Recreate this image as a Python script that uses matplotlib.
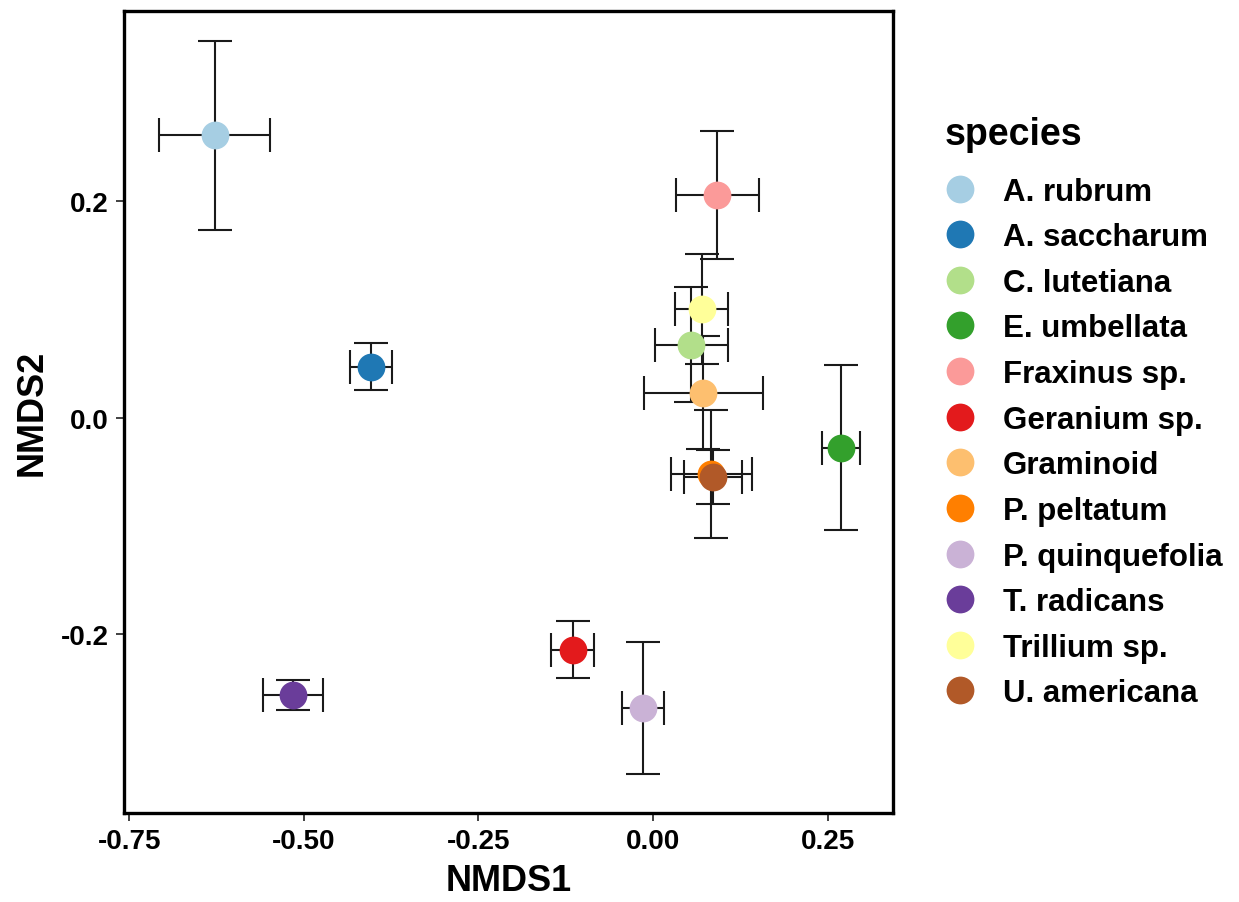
import matplotlib
matplotlib.use("Agg")
import matplotlib.pyplot as plt
from matplotlib.lines import Line2D

plt.rcParams['font.family'] = ['Liberation Sans', 'DejaVu Sans']
plt.rcParams['font.weight'] = 'bold'

species = ['A. rubrum', 'A. saccharum', 'C. lutetiana', 'E. umbellata',
           'Fraxinus sp.', 'Geranium sp.', 'Graminoid', 'P. peltatum',
           'P. quinquefolia', 'T. radicans', 'Trillium sp.', 'U. americana']
nmds1 = [-0.628, -0.404, 0.055, 0.269, 0.092, -0.115, 0.072, 0.083,
         -0.015, -0.515, 0.070, 0.086]
nmds2 = [0.260, 0.047, 0.067, -0.028, 0.205, -0.214, 0.023, -0.052,
         -0.268, -0.256, 0.100, -0.055]
err1 = [0.080, 0.030, 0.052, 0.027, 0.059, 0.031, 0.085, 0.058,
        0.030, 0.043, 0.038, 0.042]
err2 = [0.087, 0.022, 0.053, 0.076, 0.059, 0.026, 0.052, 0.059,
        0.061, 0.014, 0.051, 0.025]

# ColorBrewer "Paired"
colors = ['#A6CEE3', '#1F78B4', '#B2DF8A', '#33A02C', '#FB9A99', '#E31A1C',
          '#FDBF6F', '#FF7F00', '#CAB2D6', '#6A3D9A', '#FFFF99', '#B15928']

fig = plt.figure(figsize=(12.39, 9.03), dpi=100)
ax = fig.add_axes([0.1001, 0.0986, 0.6206, 0.8881])

for i in range(len(species)):
    ax.errorbar(nmds1[i], nmds2[i], xerr=err1[i], yerr=err2[i], fmt='none',
                ecolor='#1a1a1a', elinewidth=1.5, capsize=12.5, capthick=1.5,
                zorder=2)

for i in range(len(species)):
    ax.plot(nmds1[i], nmds2[i], 'o', ms=20, color=colors[i], mec='none',
            zorder=3)

ax.set_xlim(-0.7576, 0.3435)
ax.set_ylim(-0.3645, 0.3747)
ax.set_xticks([-0.75, -0.5, -0.25, 0.0, 0.25])
ax.set_xticklabels(['-0.75', '-0.50', '-0.25', '0.00', '0.25'])
ax.set_yticks([-0.2, 0.0, 0.2])
ax.set_yticklabels(['-0.2', '0.0', '0.2'])
ax.tick_params(labelsize=20, length=6, width=1.3, color='#333333',
               labelcolor='black', pad=5)
for lab in ax.get_xticklabels() + ax.get_yticklabels():
    lab.set_fontweight('bold')
for s in ax.spines.values():
    s.set_linewidth(2.4)
    s.set_color('black')

ax.set_xlabel('NMDS1', fontsize=26, fontweight='bold', labelpad=6)
ax.set_ylabel('NMDS2', fontsize=26, fontweight='bold', labelpad=8)

handles = [Line2D([], [], marker='o', ls='none', ms=20, color=c, mec='none')
           for c in colors]
leg = fig.legend(handles, species, title='species', loc='upper left',
                 bbox_to_anchor=(0.752, 0.884), frameon=False,
                 prop={'size': 22.5, 'weight': 'bold'},
                 title_fontproperties={'size': 27, 'weight': 'bold'},
                 labelspacing=0.5, handletextpad=0.88, borderaxespad=0,
                 handlelength=1.0)
leg._legend_box.align = 'left'
leg._legend_box.sep = 17.5

fig.savefig('out.png', dpi=100)
